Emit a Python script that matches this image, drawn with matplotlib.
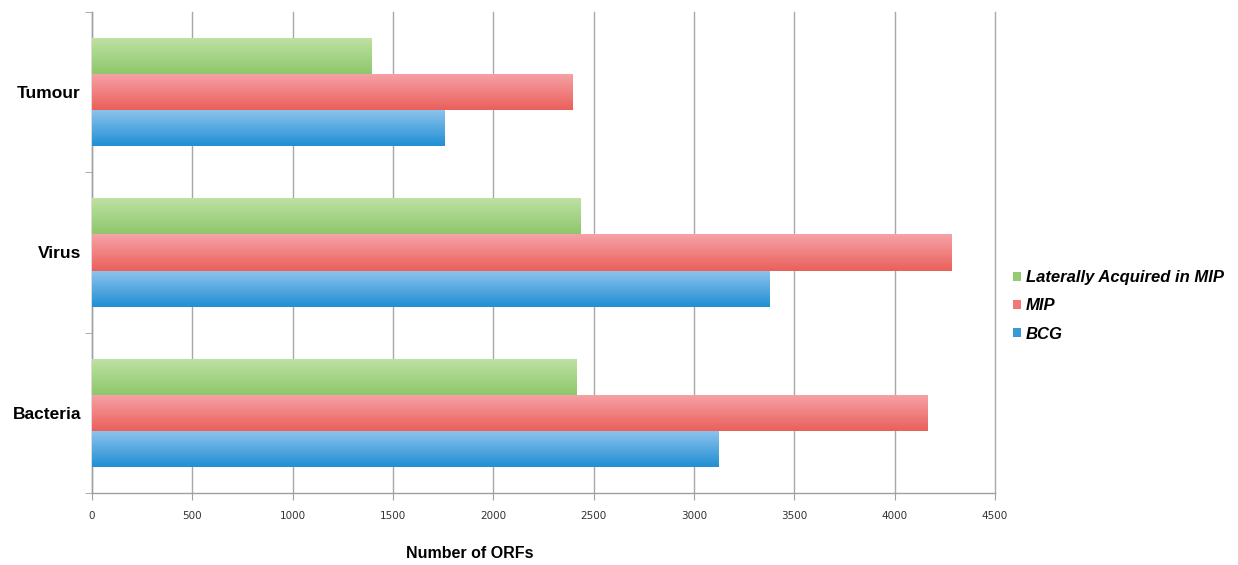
import numpy as np
import matplotlib
matplotlib.use("Agg")
import matplotlib.pyplot as plt
from matplotlib.colors import LinearSegmentedColormap
from matplotlib.patches import Patch

categories = ["Bacteria", "Virus", "Tumour"]
series_names = ["Laterally Acquired in MIP", "MIP", "BCG"]
lateral = [2415, 2435, 1395]
mip = [4165, 4285, 2397]
bcg = [3120, 3375, 1757]
x_ticks = [0, 500, 1000, 1500, 2000, 2500, 3000, 3500, 4000, 4500]

# (top colour, bottom colour) for gradient fill
grad = {
    "Laterally Acquired in MIP": ("#bfe2a6", "#8ec66b"),
    "MIP": ("#f6a3a8", "#ea5f5a"),
    "BCG": ("#90c4ee", "#1f8fd3"),
}
legend_col = {"Laterally Acquired in MIP": "#93cc6f", "MIP": "#f07878", "BCG": "#3a9ad8"}

fig = plt.figure(figsize=(12.38, 5.65), dpi=100)
ax = fig.add_axes([92/1238, 1-493/565, (995-92)/1238, (493-12)/565])

y = np.arange(len(categories))
h = 0.225
offsets = [h, 0.0, -h]
data = [lateral, mip, bcg]

gradient = np.linspace(0, 1, 256).reshape(-1, 1)
for name, vals, off in zip(series_names, data, offsets):
    bars = ax.barh(y + off, vals, height=h, color="none", edgecolor="none", zorder=3)
    top, bottom = grad[name]
    cmap = LinearSegmentedColormap.from_list(name, [bottom, top])
    for p in bars.patches:
        x0, y0 = p.get_x(), p.get_y()
        w, hh = p.get_width(), p.get_height()
        im = ax.imshow(gradient, cmap=cmap, aspect="auto", origin="lower",
                       extent=(x0, x0 + w, y0, y0 + hh), zorder=3, interpolation="bicubic")
        im.set_clip_path(p)

ax.set_xlim(0, 4500)
ax.set_ylim(-0.5, len(categories) - 0.5)
ax.set_xticks(x_ticks)
ax.set_xticklabels([str(t) for t in x_ticks], fontsize=7.5,
                   family=["Liberation Sans Narrow", "DejaVu Sans"], color="#333333")
ax.set_yticks(y)
ax.set_yticklabels(categories, fontsize=12.5, fontweight="bold",
                   family=["Liberation Sans", "DejaVu Sans"])
ax.set_yticks(np.arange(-0.5, len(categories), 1.0), minor=True)
ax.tick_params(axis="y", which="major", length=0, pad=8)
ax.tick_params(axis="y", which="minor", length=5, color="#a0a0a0", direction="out")
ax.tick_params(axis="x", length=5, color="#a0a0a0", direction="out", pad=8)

ax.grid(axis="x", color="#a8a8a8", linewidth=1.0, zorder=0)
ax.set_axisbelow(True)
for gl in ax.get_xgridlines():
    gl.set_clip_on(False)
for s in ["top", "right"]:
    ax.spines[s].set_visible(False)
for s in ["left", "bottom"]:
    ax.spines[s].set_color("#a0a0a0")
    ax.spines[s].set_linewidth(1.0)

fig.text(470/1238, 1-553/565, "Number of ORFs", ha="center", va="center",
         fontsize=11.5, fontweight="bold", family=["Liberation Sans", "DejaVu Sans"])

handles = [Patch(facecolor=legend_col[n], edgecolor="none") for n in series_names]
fig.legend(handles, series_names, loc="center left",
           bbox_to_anchor=(998/1238, 1-306/565), frameon=False,
           prop={"family": ["Liberation Sans", "DejaVu Sans"], "weight": "bold",
                 "style": "italic", "size": 12},
           handlelength=0.45, handleheight=0.45, handletextpad=0.3, labelspacing=0.8)

fig.savefig("out.png", dpi=100)
